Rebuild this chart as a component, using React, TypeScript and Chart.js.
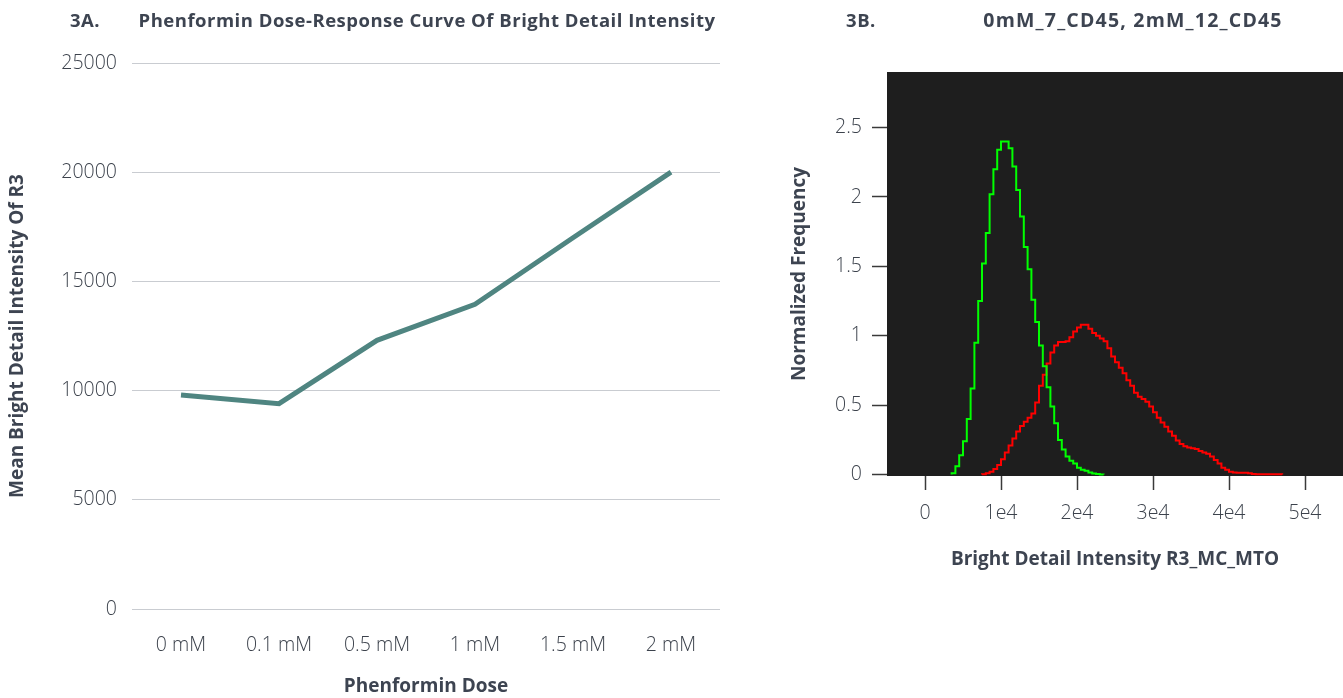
import React, { useEffect, useRef } from 'react';
import { Chart, registerables } from 'chart.js';

Chart.register(...registerables);

// ---------- Data: 3A ----------
const doseLabels = ['0 mM', '0.1 mM', '0.5 mM', '1 mM', '1.5 mM', '2 mM'];
const meanIntensity = [9800, 9400, 12300, 13950, 17000, 20000];

// ---------- Data: 3B (histograms, bin width 500) ----------
const binWidth = 500;
const greenStart = 3500; // 0mM_7_CD45
const greenFreq = [
  0.01, 0.06, 0.14, 0.24, 0.4, 0.62, 0.95, 1.25, 1.52, 1.74,
  2.02, 2.2, 2.34, 2.4, 2.4, 2.35, 2.22, 2.05, 1.86, 1.64,
  1.48, 1.26, 1.1, 0.93, 0.78, 0.63, 0.49, 0.37, 0.25, 0.18,
  0.13, 0.1, 0.08, 0.05, 0.035, 0.027, 0.015, 0.008, 0.004, 0.001,
];
const redStart = 7500; // 2mM_12_CD45
const redFreq = [
  0.003, 0.01, 0.02, 0.04, 0.07, 0.11, 0.16, 0.21, 0.26, 0.31,
  0.35, 0.38, 0.41, 0.44, 0.52, 0.64, 0.72, 0.8, 0.88, 0.93,
  0.955, 0.955, 0.96, 0.99, 1.03, 1.06, 1.08, 1.08, 1.05, 1.02,
  1.0, 0.98, 0.96, 0.91, 0.85, 0.81, 0.77, 0.73, 0.68, 0.64,
  0.59, 0.56, 0.545, 0.525, 0.49, 0.45, 0.41, 0.375, 0.345, 0.31,
  0.28, 0.245, 0.22, 0.205, 0.196, 0.19, 0.184, 0.17, 0.16, 0.15,
  0.13, 0.105, 0.08, 0.05, 0.035, 0.02, 0.015, 0.014, 0.013, 0.013,
  0.01, 0.005, 0.003, 0.002, 0.002, 0.002, 0.002, 0.002, 0.002,
];
const histXTicks = [0, 10000, 20000, 30000, 40000, 50000];
const histYTicks = [0, 0.5, 1, 1.5, 2, 2.5];

const FONT = '"Open Sans", "Noto Sans", sans-serif';
const TEXT = '#3d4451';
const TICK_TEXT = '#3c424c';
const TICK_FONT = { family: FONT, size: 19.5, weight: '300' };
const AXIS_TITLE_FONT = { family: FONT, size: 19, weight: 'bold' };

function toSteps(start: number, freq: number[]) {
  const pts = [{ x: start, y: 0 }];
  freq.forEach((y, i) => pts.push({ x: start + i * binWidth, y }));
  pts.push({ x: start + freq.length * binWidth, y: 0 });
  return pts;
}

const darkArea = {
  id: 'darkArea',
  beforeDraw(chart: any) {
    const { ctx, chartArea } = chart;
    if (!chartArea) return;
    ctx.save();
    ctx.fillStyle = '#1e1e1e';
    ctx.fillRect(chartArea.left, chartArea.top, chartArea.right - chartArea.left, chartArea.bottom - chartArea.top);
    ctx.restore();
  },
};

function LeftChart() {
  const ref = useRef<HTMLCanvasElement>(null);
  useEffect(() => {
    const chart = new Chart(ref.current!, {
      type: 'line',
      data: {
        labels: doseLabels,
        datasets: [
          {
            data: meanIntensity,
            borderColor: '#4f8581',
            borderWidth: 5,
            pointRadius: 0,
            tension: 0,
            fill: false,
          },
        ],
      },
      options: {
        responsive: false,
        animation: false,
        layout: { padding: { top: 63, right: 15, bottom: 0, left: 0 } },
        plugins: { legend: { display: false }, tooltip: { enabled: false } },
        scales: {
          x: {
            offset: true,
            grid: { display: false },
            border: { display: false },
            ticks: { padding: 17, color: TICK_TEXT, font: TICK_FONT },
            title: {
              display: true,
              text: 'Phenformin Dose',
              color: TEXT,
              font: AXIS_TITLE_FONT,
              padding: { top: 0, bottom: 0 },
            },
            afterFit: (s: any) => {
              s.height = 89;
            },
          },
          y: {
            min: 0,
            max: 25000,
            ticks: {
              stepSize: 5000,
              padding: 15,
              color: TICK_TEXT,
              font: TICK_FONT,
              callback: (v: any) => String(v),
            },
            grid: { color: '#c9ccd1', lineWidth: 1, drawTicks: false },
            border: { display: false },
            title: {
              display: true,
              text: 'Mean Bright Detail Intensity Of R3',
              color: TEXT,
              font: AXIS_TITLE_FONT,
              padding: { top: 6.6, bottom: 0 },
            },
            afterFit: (s: any) => {
              s.width = 132;
            },
          },
        },
      } as any,
    });
    return () => chart.destroy();
  }, []);
  return (
    <canvas
      ref={ref}
      width={735}
      height={698}
      style={{ position: 'absolute', left: 0, top: 0, width: 735, height: 698 }}
    />
  );
}

function RightChart() {
  const ref = useRef<HTMLCanvasElement>(null);
  useEffect(() => {
    const chart = new Chart(ref.current!, {
      type: 'line',
      data: {
        datasets: [
          {
            label: '0mM_7_CD45',
            data: toSteps(greenStart, greenFreq),
            borderColor: '#00ff00',
            borderWidth: 2,
            pointRadius: 0,
            stepped: 'before',
            fill: false,
          },
          {
            label: '2mM_12_CD45',
            data: toSteps(redStart, redFreq),
            borderColor: '#ff0000',
            borderWidth: 2,
            pointRadius: 0,
            stepped: 'before',
            fill: false,
          },
        ],
      },
      options: {
        responsive: false,
        animation: false,
        layout: { padding: { top: 72, right: 0, bottom: 0, left: 0 } },
        plugins: { legend: { display: false }, tooltip: { enabled: false } },
        scales: {
          x: {
            type: 'linear',
            min: -5000,
            max: 55000,
            afterBuildTicks: (s: any) => {
              s.ticks = histXTicks.map((v) => ({ value: v }));
            },
            grid: { drawOnChartArea: false, tickLength: 14, tickColor: '#3a3a3a', tickWidth: 1.5 },
            border: { display: false },
            ticks: {
              padding: 12,
              color: TICK_TEXT,
              font: TICK_FONT,
              callback: (v: any) => (v === 0 ? '0' : `${v / 10000}e4`),
            },
            title: {
              display: true,
              text: 'Bright Detail Intensity R3_MC_MTO',
              color: TEXT,
              font: AXIS_TITLE_FONT,
              padding: { top: 0, bottom: 126.6 },
            },
            afterFit: (s: any) => {
              s.height = 222;
            },
          },
          y: {
            type: 'linear',
            min: -0.01,
            max: 2.9,
            afterBuildTicks: (s: any) => {
              s.ticks = histYTicks.map((v) => ({ value: v }));
            },
            grid: { drawOnChartArea: false, tickLength: 15, tickColor: '#3a3a3a', tickWidth: 1.5 },
            border: { display: false },
            ticks: {
              padding: 10,
              color: TICK_TEXT,
              font: TICK_FONT,
              callback: (v: any) => String(v),
            },
            title: {
              display: true,
              text: 'Normalized Frequency',
              color: TEXT,
              font: AXIS_TITLE_FONT,
              padding: { top: 28.6, bottom: 0 },
            },
            afterFit: (s: any) => {
              s.width = 127;
            },
          },
        },
      } as any,
      plugins: [darkArea],
    });
    return () => chart.destroy();
  }, []);
  return (
    <canvas
      ref={ref}
      width={583}
      height={698}
      style={{ position: 'absolute', left: 760, top: 0, width: 583, height: 698 }}
    />
  );
}

const titleStyle: React.CSSProperties = {
  position: 'absolute',
  top: 9,
  height: 22,
  lineHeight: '22px',
  textAlign: 'center',
  fontFamily: FONT,
  fontWeight: 700,
  fontSize: 18.5,
  letterSpacing: '0.5px',
  color: TEXT,
  whiteSpace: 'nowrap',
};

export default function App() {
  return (
    <div
      style={{
        position: 'absolute',
        left: 0,
        top: 0,
        width: 1343,
        height: 698,
        background: '#ffffff',
        overflow: 'hidden',
      }}
    >
      <LeftChart />
      <RightChart />
      <div style={{ ...titleStyle, left: 60, width: 50 }}>3A.</div>
      <div style={{ ...titleStyle, left: 127, width: 600 }}>
        Phenformin Dose-Response Curve Of Bright Detail Intensity
      </div>
      <div style={{ ...titleStyle, left: 836, width: 50 }}>3B.</div>
      <div style={{ ...titleStyle, left: 933, width: 400, fontSize: 19.5, letterSpacing: '1.2px' }}>
        0mM_7_CD45, 2mM_12_CD45
      </div>
    </div>
  );
}
